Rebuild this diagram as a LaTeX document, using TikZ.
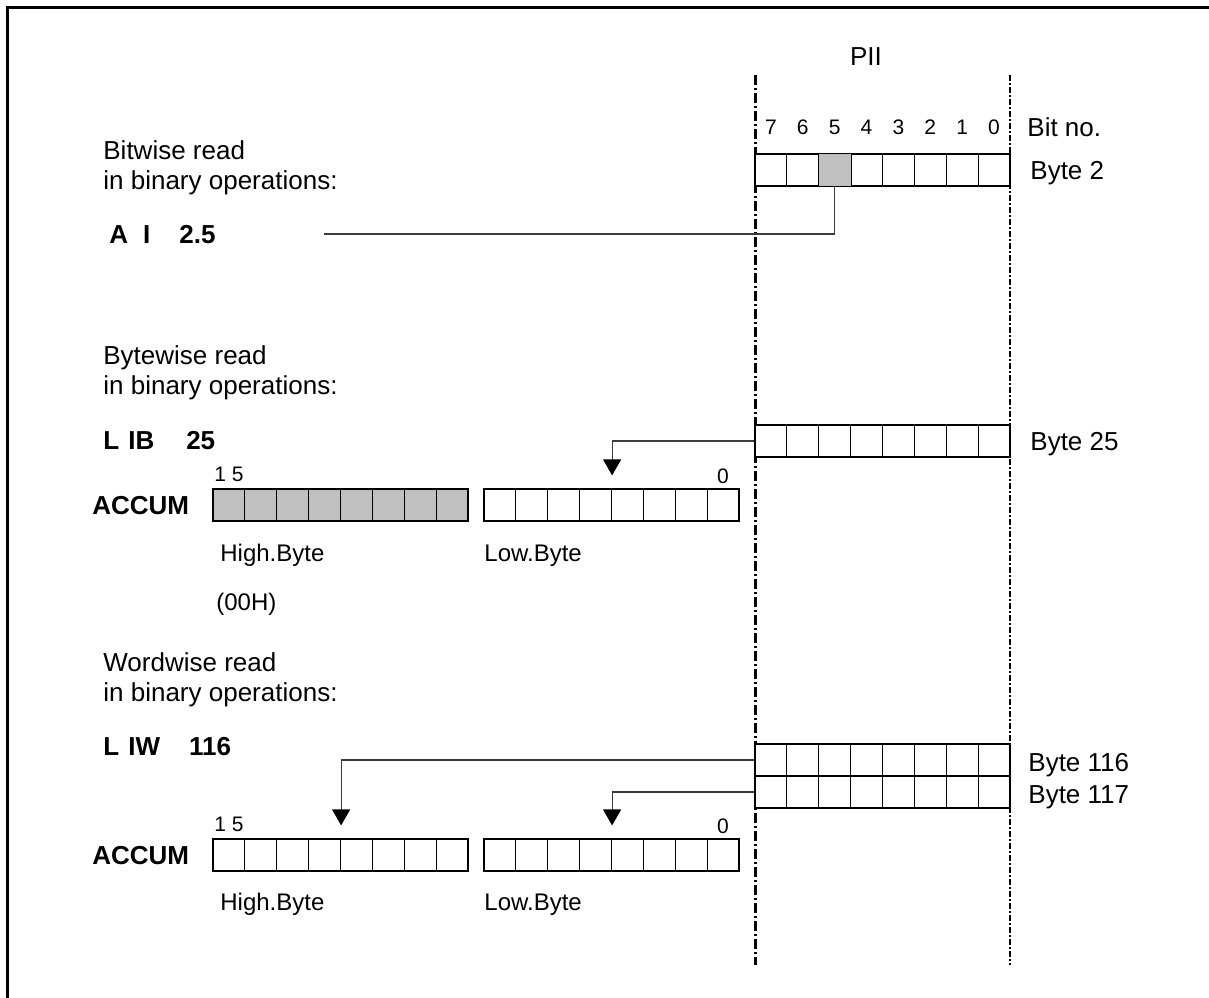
\documentclass[tikz,border=0pt]{standalone}
\usepackage{fontspec}
\setmainfont{Liberation Sans}
\usetikzlibrary{arrows.meta}
\definecolor{cellgray}{RGB}{192,192,192}
\definecolor{wiregray}{RGB}{60,60,60}

%% one byte = 8 cells, named <row>-<bit no.>
\newcommand{\byterow}[5]{%
  \foreach \k in {0,...,7}{%
    \pgfmathtruncatemacro{\bitno}{#4-\k}%
    \node[bitcell, fill=#5] (#1-\bitno) at ({#2+(\k+0.5)*31.875},{#3+16}) {};
  }%
}

\begin{document}
\begin{tikzpicture}[x=0.5pt, y=-0.5pt,
  bitcell/.style={draw, line width=0.6pt, minimum width=15.94pt, minimum height=16pt, inner sep=0pt},
  txt/.style={anchor=west, inner sep=0pt, text height=9.3pt, text depth=0pt, font=\fontsize{13}{15.6}\selectfont},
  txtb/.style={txt, font=\fontsize{13}{15.6}\selectfont\bfseries},
  lbl/.style={txt, text height=8.6pt, font=\fontsize{12}{14}\selectfont},
  bitnum/.style={inner sep=0pt, text height=7.5pt, text depth=0pt, font=\fontsize{10.5}{12}\selectfont},
  conn/.style={draw=wiregray, line width=0.6pt},
  arr/.style={conn, -{Triangle[width=9pt,length=8pt,color=black]}, shorten >=6.5pt}]
  \useasboundingbox (0,0) rectangle (1209,997);
  %% frame (left and top edge only)
  \draw[line width=1.5pt] (7,1000) -- (7,7) -- (1212,7);
  %% PII borders
  \draw[line width=1.5pt, dash pattern=on 5pt off 1.5pt on 1pt off 1.5pt] (755,75) -- (755,965);
  \draw[line width=1.1pt, dash pattern=on 3pt off 1pt on 1pt off 1pt] (1010,75) -- (1010,965);
  \node[anchor=center, inner sep=0pt, font=\fontsize{13}{15.6}\selectfont] (pii) at (866,57) {PII};

  %% bitwise read
  \node[txt] (bitw1) at (103,150) {Bitwise read};
  \node[txt] (bitw2) at (103,180) {in binary operations:};
  \node[txtb] (ai) at (109,234) {A\hspace{7.5pt}I\hspace{14.5pt}2.5};
  \byterow{byte2}{755}{154}{7}{white}
  \filldraw[fill=cellgray, line width=0.6pt] (byte2-5.south west) rectangle (byte2-5.north east);
  \foreach \b in {7,...,0}
    \node[bitnum, yshift=13pt] (bn-\b) at (byte2-\b.north) {\b};
  \node[txt] (bitno) at (1027,127) {Bit no.};
  \node[txt] (b2lbl) at (1030,170) {Byte 2};
  \coordinate (aiend) at (324,234);
  \draw[conn] (byte2-5.south) |- (aiend);

  %% bytewise read
  \node[txt] (bytew1) at (103,355) {Bytewise read};
  \node[txt] (bytew2) at (103,385) {in binary operations:};
  \node[txtb] (lib) at (103,440) {L\hspace{4.5pt}IB\hspace{16pt}25};
  \byterow{byte25}{755}{425}{7}{white}
  \node[txt] (b25lbl) at (1030,441) {Byte 25};
  \byterow{acca}{213}{489}{15}{cellgray}
  \byterow{acca}{484}{489}{7}{white}
  \node[txtb] (accuma) at (92,505) {ACCUM};
  \node[bitnum, yshift=7pt] (hia) at (acca-15.north) {1\hspace{3pt}5};
  \node[bitnum, yshift=6pt] (loa) at (acca-0.north) {0};
  \node[lbl] (higha) at (220,553) {High.Byte};
  \node[lbl] (lowa) at (484,553) {Low.Byte};
  \node[lbl] (zeroh) at (216,602) {(00H)};
  \draw[arr] (byte25-7.west) -| (acca-4.north east);

  %% wordwise read
  \node[txt] (wordw1) at (103,662) {Wordwise read};
  \node[txt] (wordw2) at (103,692) {in binary operations:};
  \node[txtb] (liw) at (103,746) {L\hspace{4.5pt}IW\hspace{14.5pt}116};
  \byterow{byte116}{755}{744}{7}{white}
  \byterow{byte117}{755}{776}{7}{white}
  \node[txt] (b116lbl) at (1028,762) {Byte 116};
  \node[txt] (b117lbl) at (1028,794) {Byte 117};
  \byterow{accb}{213}{839}{15}{white}
  \byterow{accb}{484}{839}{7}{white}
  \node[txtb] (accumb) at (92,855) {ACCUM};
  \node[bitnum, yshift=7pt] (hib) at (accb-15.north) {1\hspace{3pt}5};
  \node[bitnum, yshift=6pt] (lob) at (accb-0.north) {0};
  \node[lbl] (highb) at (220,902) {High.Byte};
  \node[lbl] (lowb) at (484,902) {Low.Byte};
  \draw[arr] (byte116-7.west) -| (accb-12.north east);
  \draw[arr] (byte117-7.west) -| (accb-4.north east);
\end{tikzpicture}
\end{document}
